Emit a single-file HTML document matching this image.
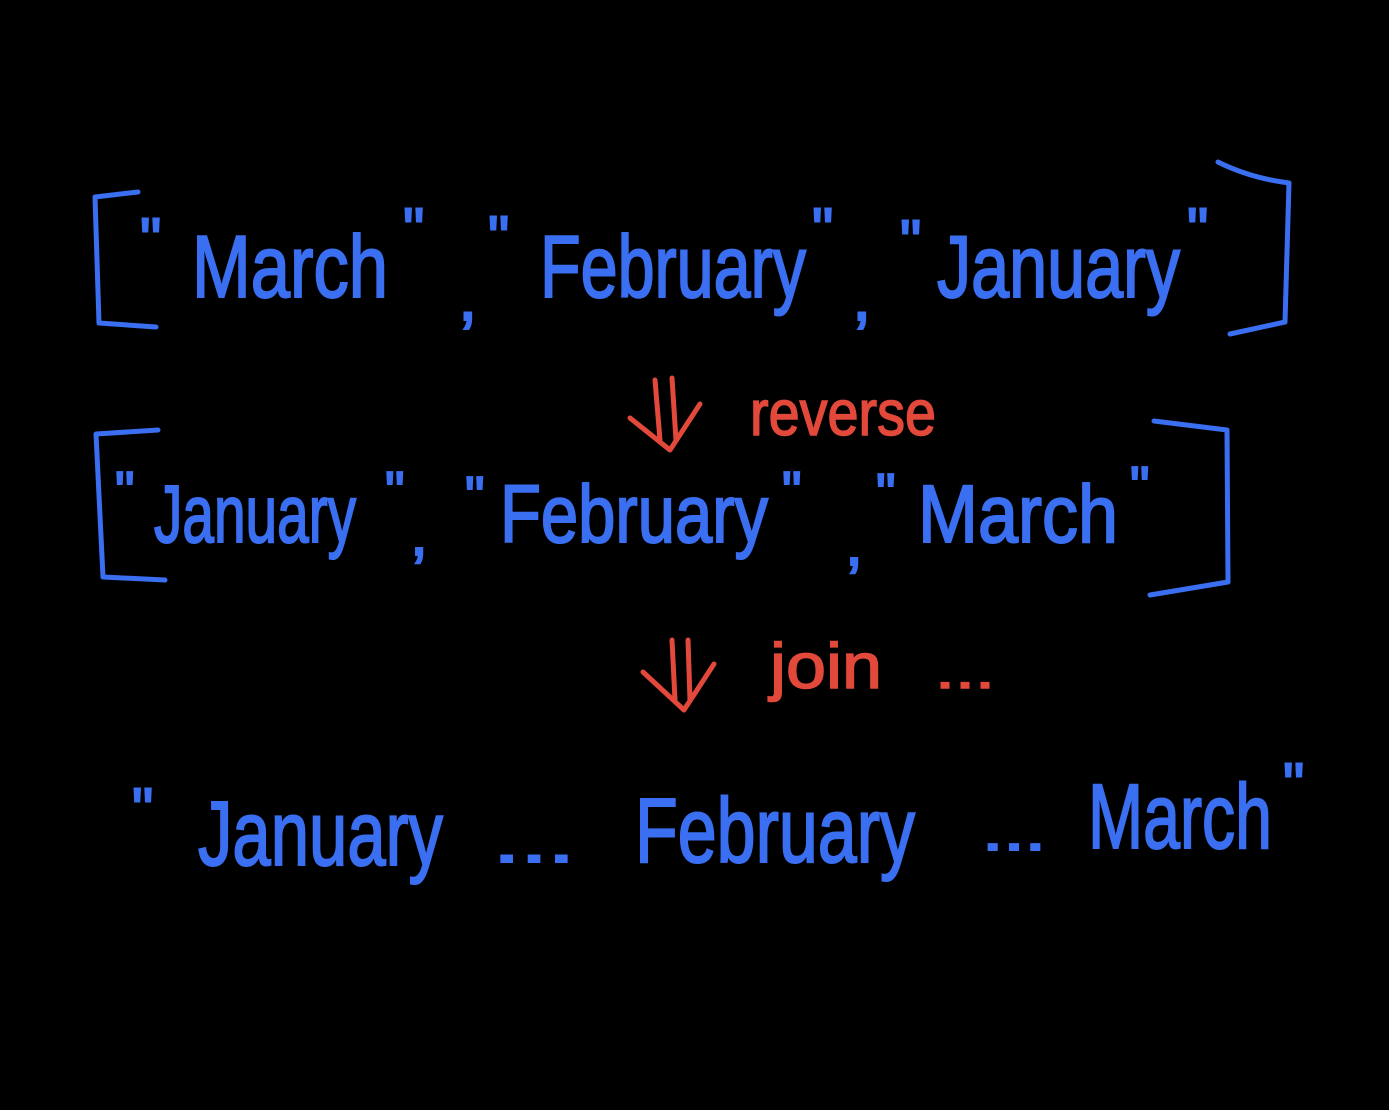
<!DOCTYPE html>
<html><head><meta charset="utf-8"><style>
html,body{margin:0;padding:0;background:#000;}
svg{display:block}
text{font-family:"Liberation Sans",sans-serif;}
.b{fill:#3a6ff2;stroke:#3a6ff2;stroke-width:2}
.r{fill:#e2493a;stroke:#e2493a;stroke-width:1.5}
.lb{fill:none;stroke:#3a6ff2;stroke-width:5;stroke-linecap:round;stroke-linejoin:round}
.lr{fill:none;stroke:#e2493a;stroke-width:5;stroke-linecap:round;stroke-linejoin:round}
</style></head><body>
<svg width="1389" height="1110" viewBox="0 0 1389 1110" xmlns="http://www.w3.org/2000/svg">
<rect width="1389" height="1110" fill="#000"/>
<!-- row 1 brackets -->
<path class="lb" d="M138 192 L95 197 L99 323 L156 327"/>
<path class="lb" d="M1218 162 Q1250 178 1289 183 L1285 322 L1230 334"/>
<!-- row 1 text -->
<text class="b" x="140" y="260" font-size="60">"</text>
<text class="b" x="192" y="297" font-size="88" textLength="196" lengthAdjust="spacingAndGlyphs">March</text>
<text class="b" x="403" y="250" font-size="60">"</text>
<text class="b" x="458" y="320" font-size="70">,</text>
<text class="b" x="488" y="258" font-size="60">"</text>
<text class="b" x="540" y="297" font-size="88" textLength="266" lengthAdjust="spacingAndGlyphs">February</text>
<text class="b" x="812" y="250" font-size="60">"</text>
<text class="b" x="852" y="320" font-size="70">,</text>
<text class="b" x="900" y="262" font-size="60">"</text>
<text class="b" x="937" y="297" font-size="88" textLength="243" lengthAdjust="spacingAndGlyphs">January</text>
<text class="b" x="1187" y="250" font-size="60">"</text>
<!-- arrow 1 -->
<path class="lr" d="M655 380 L660 440 M672 378 L676 440 M630 418 L670 450 L700 404"/>
<text class="r" x="750" y="435" font-size="64" textLength="186" lengthAdjust="spacingAndGlyphs">reverse</text>
<!-- row 2 brackets -->
<path class="lb" d="M158 430 L96 434 L103 577 L165 580"/>
<path class="lb" d="M1154 421 L1227 430 L1228 582 L1150 595"/>
<text class="b" x="115" y="510" font-size="55">"</text>
<text class="b" x="154" y="542" font-size="82" textLength="202" lengthAdjust="spacingAndGlyphs">January</text>
<text class="b" x="385" y="510" font-size="55">"</text>
<text class="b" x="410" y="555" font-size="65">,</text>
<text class="b" x="465" y="515" font-size="55">"</text>
<text class="b" x="500" y="542" font-size="82" textLength="268" lengthAdjust="spacingAndGlyphs">February</text>
<text class="b" x="782" y="510" font-size="55">"</text>
<text class="b" x="845" y="565" font-size="65">,</text>
<text class="b" x="876" y="512" font-size="55">"</text>
<text class="b" x="918" y="542" font-size="82" textLength="200" lengthAdjust="spacingAndGlyphs">March</text>
<text class="b" x="1130" y="505" font-size="55">"</text>
<!-- arrow 2 -->
<path class="lr" d="M672 640 L675 700 M688 640 L690 700 M643 672 L684 710 L714 664"/>
<text class="r" x="770" y="688" font-size="64" textLength="112" lengthAdjust="spacingAndGlyphs">join</text>
<text class="r" x="935" y="688" font-size="50" textLength="60" lengthAdjust="spacingAndGlyphs">...</text>
<!-- row 4 -->
<text class="b" x="132" y="830" font-size="60">"</text>
<text class="b" x="198" y="865" font-size="92" textLength="245" lengthAdjust="spacingAndGlyphs">January</text>
<text class="b" x="493" y="862" font-size="60" textLength="82" lengthAdjust="spacingAndGlyphs">...</text>
<text class="b" x="635" y="862" font-size="92" textLength="280" lengthAdjust="spacingAndGlyphs">February</text>
<text class="b" x="982" y="850" font-size="55" textLength="64" lengthAdjust="spacingAndGlyphs">...</text>
<text class="b" x="1088" y="848" font-size="92" textLength="184" lengthAdjust="spacingAndGlyphs">March</text>
<text class="b" x="1283" y="805" font-size="60">"</text>
</svg>
</body></html>
